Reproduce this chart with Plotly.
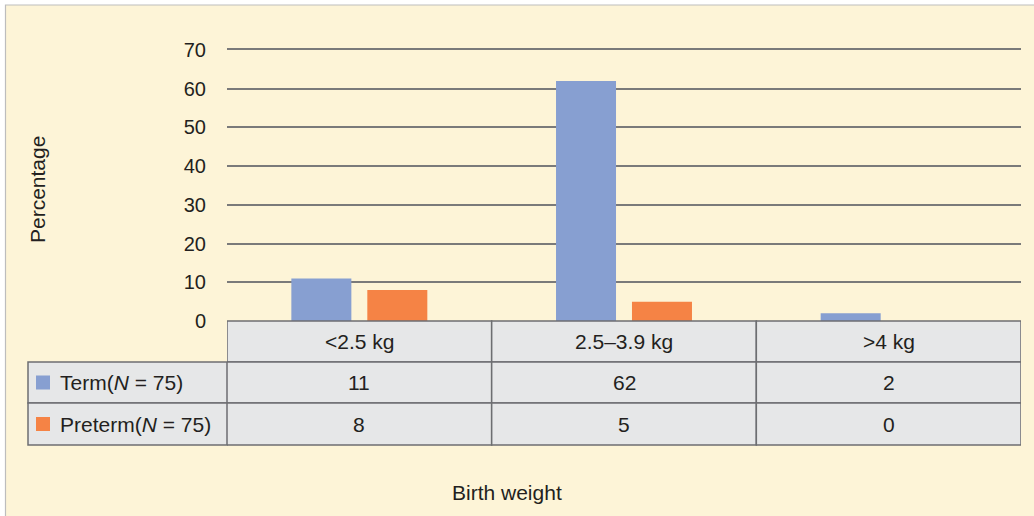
import plotly.graph_objects as go

# ---- data ----
categories = ["<2.5 kg", "2.5\u20133.9 kg", ">4 kg"]
series_names = ["Term(<i>N</i> = 75)", "Preterm(<i>N</i> = 75)"]
term_values = [11, 62, 2]
preterm_values = [8, 5, 0]
y_ticks = [0, 10, 20, 30, 40, 50, 60, 70]

# ---- style ----
W, H = 1034, 516
ML, MR, MT, MB = 227, 13, 50, 195
PW, PH = W - ML - MR, H - MT - MB
CREAM = "#FDF4D7"
BLUE = "#879FD1"
ORANGE = "#F58345"
CELL = "#E6E7E8"
BORDER = "#6D6E71"
GRID = "#7A7A7A"
TXT = "#231F20"
FONT = "Arial, Liberation Sans, sans-serif"
TFS = 21


def px_x(p):
    return (p - ML) / PW


def px_y(p):
    return (MT + PH - p) / PH


fig = go.Figure()
fig.add_trace(go.Bar(x=categories, y=term_values, name="Term",
                     marker=dict(color=BLUE, line=dict(width=0))))
fig.add_trace(go.Bar(x=categories, y=preterm_values, name="Preterm",
                     marker=dict(color=ORANGE, line=dict(width=0))))

shapes = []
annotations = []
# cream background panel
shapes.append(dict(type="rect", xref="paper", yref="paper", x0=px_x(5.5), x1=px_x(1040), y0=px_y(5), y1=px_y(525),
                   fillcolor=CREAM, line=dict(color="#BDBDBD", width=1.2), layer="below"))

# table geometry (pixel rows)
row_tops = [321, 362, 403]
row_bots = [362, 403, 445]
label_x0 = 28

# header cells
for i, c in enumerate(categories):
    shapes.append(dict(type="rect", xref="x", yref="paper", x0=i - 0.5, x1=i + 0.5,
                       y0=px_y(row_bots[0]), y1=px_y(row_tops[0]), fillcolor=CELL,
                       line=dict(color=BORDER, width=1.5), layer="above"))
    annotations.append(dict(xref="x", yref="paper", x=i, y=px_y((row_tops[0] + row_bots[0]) / 2),
                            xanchor="center", yanchor="middle",
                            text=c, showarrow=False, font=dict(size=TFS, color=TXT, family=FONT)))

swatches = [BLUE, ORANGE]
rows = [term_values, preterm_values]
for r in range(2):
    top, bot = row_tops[r + 1], row_bots[r + 1]
    yc = px_y((top + bot) / 2)
    shapes.append(dict(type="rect", xref="paper", yref="paper", x0=px_x(label_x0), x1=0,
                       y0=px_y(bot), y1=px_y(top), fillcolor=CELL,
                       line=dict(color=BORDER, width=1.5), layer="above"))
    shapes.append(dict(type="rect", xref="paper", yref="paper", x0=px_x(36), x1=px_x(50),
                       y0=px_y((top + bot) / 2 + 7), y1=px_y((top + bot) / 2 - 7), fillcolor=swatches[r],
                       line=dict(width=0), layer="above"))
    annotations.append(dict(xref="paper", yref="paper", x=px_x(58), y=yc, xanchor="left", yanchor="middle",
                            text=series_names[r], showarrow=False, font=dict(size=TFS, color=TXT, family=FONT)))
    for i, v in enumerate(rows[r]):
        shapes.append(dict(type="rect", xref="x", yref="paper", x0=i - 0.5, x1=i + 0.5,
                           y0=px_y(bot), y1=px_y(top), fillcolor=CELL,
                           line=dict(color=BORDER, width=1.5), layer="above"))
        annotations.append(dict(xref="x", yref="paper", x=i, y=yc, text=str(v), showarrow=False,
                                xanchor="center", yanchor="middle",
                                font=dict(size=TFS, color=TXT, family=FONT)))

annotations.append(dict(xref="paper", yref="paper", x=px_x(507), y=px_y(492), text="Birth weight",
                        xanchor="center", yanchor="middle",
                        showarrow=False, font=dict(size=TFS, color=TXT, family=FONT)))
annotations.append(dict(xref="paper", yref="paper", x=px_x(37), y=px_y(190), text="Percentage",
                        xanchor="center", yanchor="middle",
                        textangle=-90, showarrow=False, font=dict(size=TFS, color=TXT, family=FONT)))

fig.update_layout(
    width=W, height=H,
    margin=dict(l=ML, r=MR, t=MT, b=MB),
    paper_bgcolor="white", plot_bgcolor="white",
    showlegend=False,
    barmode="group", bargap=0.426, bargroupgap=0.21,
    shapes=shapes, annotations=annotations,
    font=dict(family=FONT, color=TXT),
)
fig.update_xaxes(type="category", range=[-0.5, 2.5], showticklabels=False, showgrid=False,
                 zeroline=False, showline=True, mirror=True, linecolor=GRID, linewidth=1.5, ticks="")
fig.update_yaxes(range=[0, 70], tickvals=y_ticks, showgrid=True, gridcolor=GRID, gridwidth=1.5,
                 zeroline=False, showline=False, ticks="", ticklabelstandoff=20,
                 tickfont=dict(size=20, color=TXT, family=FONT))

fig.write_html("out.html", config={"displayModeBar": False},
               post_script="document.body.style.margin='0px';document.body.style.padding='0px';")
